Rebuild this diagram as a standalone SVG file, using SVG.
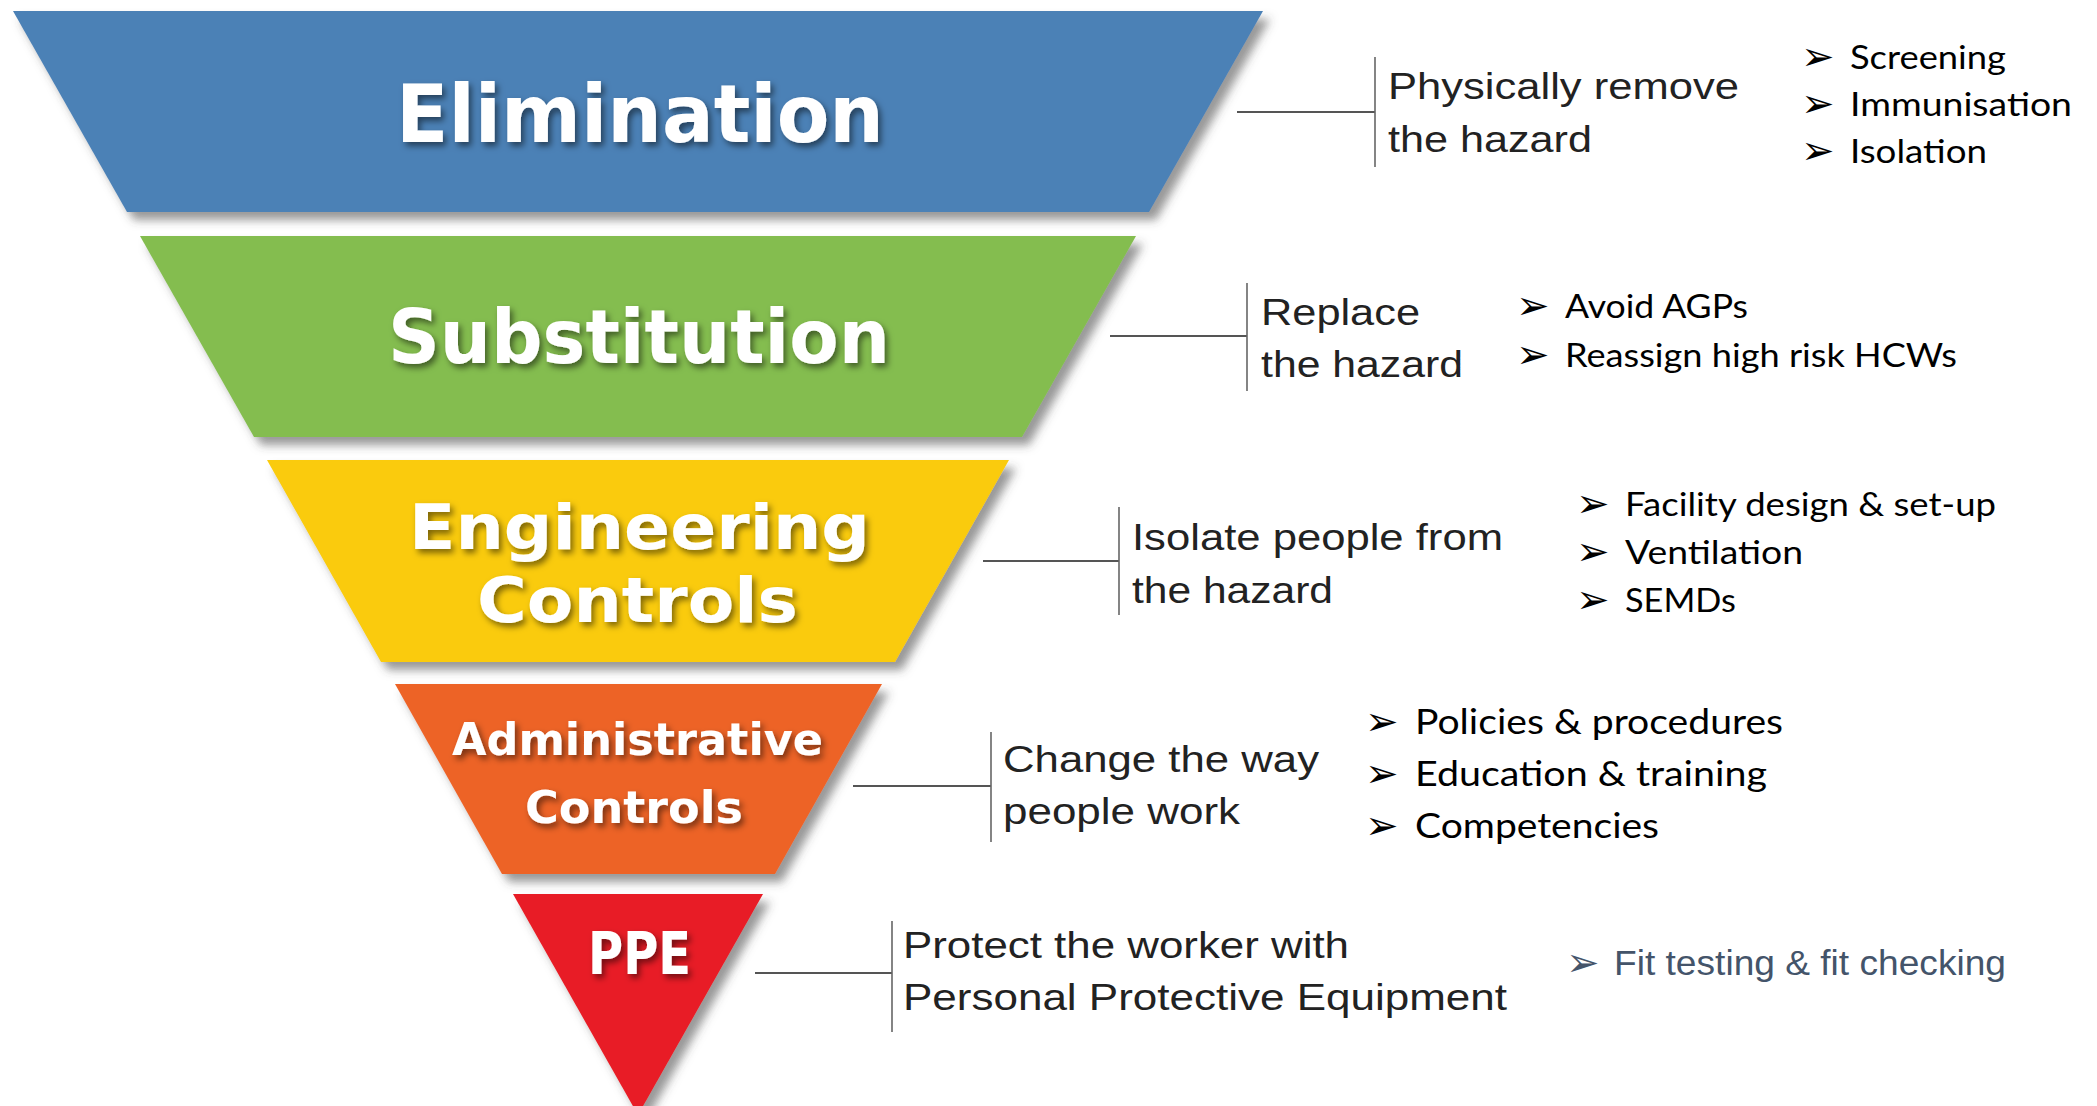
<svg xmlns="http://www.w3.org/2000/svg" width="2097" height="1106" viewBox="0 0 2097 1106">
  <defs>
    <filter id="shapeShadow" x="-5%" y="-5%" width="115%" height="125%">
      <feDropShadow dx="7" dy="8" stdDeviation="5" flood-color="#444" flood-opacity="0.55"/>
    </filter>
    <filter id="textShadow" x="-10%" y="-20%" width="125%" height="150%">
      <feDropShadow dx="3" dy="4" stdDeviation="3" flood-color="#000" flood-opacity="0.5"/>
    </filter>
  </defs>
  <style>
    .lbl { font-family: "DejaVu Sans", "Liberation Sans", sans-serif; font-weight: bold; fill: #ffffff; filter: url(#textShadow); }
    .desc { font-family: "Liberation Sans", Arial, sans-serif; font-size: 37px; fill: #222222; }
    .bul { font-family: Lato, "Open Sans", sans-serif; font-size: 32px; fill: #000000; }
    .bul4 { font-size: 35px; }
    .arw { font-family: "DejaVu Sans", sans-serif; font-size: 40px; fill: #000000; }
    .ppe-b { font-family: "Liberation Sans", Arial, sans-serif; font-size: 35px; fill: #44546a; }
    .conn line { stroke: #555555; stroke-width: 2; }
    .conn line.v { stroke: #666666; stroke-width: 1.6; }
  </style>
  <rect x="0" y="0" width="2097" height="1106" fill="#ffffff"/>

  <g id="elimination">
    <polygon points="13,11 1263,11 1149,212 127,212" fill="#4c81b6" filter="url(#shapeShadow)"/>
    <text class="lbl" x="396" y="142" font-size="80" textLength="488" lengthAdjust="spacingAndGlyphs">Elimination</text>
  </g>
  <g id="substitution">
    <polygon points="140,236 1136,236 1022,437 254,437" fill="#84bd50" filter="url(#shapeShadow)"/>
    <text class="lbl" x="388" y="363" font-size="75" textLength="502" lengthAdjust="spacingAndGlyphs">Substitution</text>
  </g>
  <g id="engineering">
    <polygon points="267,460 1009,460 895,662 381,662" fill="#facb0a" filter="url(#shapeShadow)"/>
    <text class="lbl" x="409" y="549" font-size="62" textLength="461" lengthAdjust="spacingAndGlyphs">Engineering</text>
    <text class="lbl" x="477" y="622" font-size="62" textLength="321" lengthAdjust="spacingAndGlyphs">Controls</text>
  </g>
  <g id="administrative">
    <polygon points="395,684 882,684 775,874 502,874" fill="#ed6426" filter="url(#shapeShadow)"/>
    <text class="lbl" x="452" y="755" font-size="45" textLength="371" lengthAdjust="spacingAndGlyphs">Administrative</text>
    <text class="lbl" x="525" y="823" font-size="44" textLength="218" lengthAdjust="spacingAndGlyphs">Controls</text>
  </g>
  <g id="ppe">
    <polygon points="513,894 763,894 638,1115" fill="#e81d25" filter="url(#shapeShadow)"/>
    <text class="lbl" x="588" y="974" font-size="58" textLength="103" lengthAdjust="spacingAndGlyphs">PPE</text>
  </g>

  <g id="connectors" class="conn">
    <line x1="1237" y1="112" x2="1375" y2="112"/>
    <line class="v" x1="1375" y1="57" x2="1375" y2="167"/>
    <line x1="1110" y1="336" x2="1247" y2="336"/>
    <line class="v" x1="1247" y1="283" x2="1247" y2="391"/>
    <line x1="983" y1="561" x2="1119" y2="561"/>
    <line class="v" x1="1119" y1="507" x2="1119" y2="615"/>
    <line x1="853" y1="786" x2="991" y2="786"/>
    <line class="v" x1="991" y1="732" x2="991" y2="842"/>
    <line x1="755" y1="973" x2="892" y2="973"/>
    <line class="v" x1="892" y1="921" x2="892" y2="1032"/>
  </g>

  <g id="desc-elimination">
    <text class="desc" x="1388" y="99" textLength="351" lengthAdjust="spacingAndGlyphs">Physically remove</text>
    <text class="desc" x="1388" y="152" textLength="204" lengthAdjust="spacingAndGlyphs">the hazard</text>
  </g>
  <g id="desc-substitution">
    <text class="desc" x="1261" y="325" textLength="159" lengthAdjust="spacingAndGlyphs">Replace</text>
    <text class="desc" x="1261" y="377" textLength="202" lengthAdjust="spacingAndGlyphs">the hazard</text>
  </g>
  <g id="desc-engineering">
    <text class="desc" x="1132" y="550" textLength="371" lengthAdjust="spacingAndGlyphs">Isolate people from</text>
    <text class="desc" x="1132" y="603" textLength="201" lengthAdjust="spacingAndGlyphs">the hazard</text>
  </g>
  <g id="desc-administrative">
    <text class="desc" x="1003" y="772" textLength="316" lengthAdjust="spacingAndGlyphs">Change the way</text>
    <text class="desc" x="1003" y="824" textLength="237" lengthAdjust="spacingAndGlyphs">people work</text>
  </g>
  <g id="desc-ppe">
    <text class="desc" x="903" y="958" textLength="446" lengthAdjust="spacingAndGlyphs">Protect the worker with</text>
    <text class="desc" x="903" y="1010" textLength="604" lengthAdjust="spacingAndGlyphs">Personal Protective Equipment</text>
  </g>

  <g id="bullets-elimination">
    <text class="arw" x="1801" y="70">➢</text>
    <text class="bul" x="1850" y="69" textLength="156" lengthAdjust="spacingAndGlyphs">Screening</text>
    <text class="arw" x="1801" y="117">➢</text>
    <text class="bul" x="1850" y="116" textLength="222" lengthAdjust="spacingAndGlyphs">Immunisation</text>
    <text class="arw" x="1801" y="164">➢</text>
    <text class="bul" x="1850" y="163" textLength="137" lengthAdjust="spacingAndGlyphs">Isolation</text>
  </g>
  <g id="bullets-substitution">
    <text class="arw" x="1516" y="319">➢</text>
    <text class="bul" x="1565" y="318" textLength="183" lengthAdjust="spacingAndGlyphs">Avoid AGPs</text>
    <text class="arw" x="1516" y="368">➢</text>
    <text class="bul" x="1565" y="367" textLength="392" lengthAdjust="spacingAndGlyphs">Reassign high risk HCWs</text>
  </g>
  <g id="bullets-engineering">
    <text class="arw" x="1576" y="517">➢</text>
    <text class="bul" x="1625" y="516" textLength="371" lengthAdjust="spacingAndGlyphs">Facility design &amp; set-up</text>
    <text class="arw" x="1576" y="565">➢</text>
    <text class="bul" x="1625" y="564" textLength="178" lengthAdjust="spacingAndGlyphs">Ventilation</text>
    <text class="arw" x="1576" y="613">➢</text>
    <text class="bul" x="1625" y="612" textLength="111" lengthAdjust="spacingAndGlyphs">SEMDs</text>
  </g>
  <g id="bullets-administrative">
    <text class="arw" x="1365" y="735">➢</text>
    <text class="bul bul4" x="1415" y="734" textLength="368" lengthAdjust="spacingAndGlyphs">Policies &amp; procedures</text>
    <text class="arw" x="1365" y="787">➢</text>
    <text class="bul bul4" x="1415" y="786" textLength="352" lengthAdjust="spacingAndGlyphs">Education &amp; training</text>
    <text class="arw" x="1365" y="839">➢</text>
    <text class="bul bul4" x="1415" y="838" textLength="244" lengthAdjust="spacingAndGlyphs">Competencies</text>
  </g>
  <g id="bullets-ppe">
    <text class="arw" x="1566" y="976" style="fill:#44546a">➢</text>
    <text class="ppe-b" x="1614" y="975" textLength="392" lengthAdjust="spacingAndGlyphs">Fit testing &amp; fit checking</text>
  </g>
</svg>
